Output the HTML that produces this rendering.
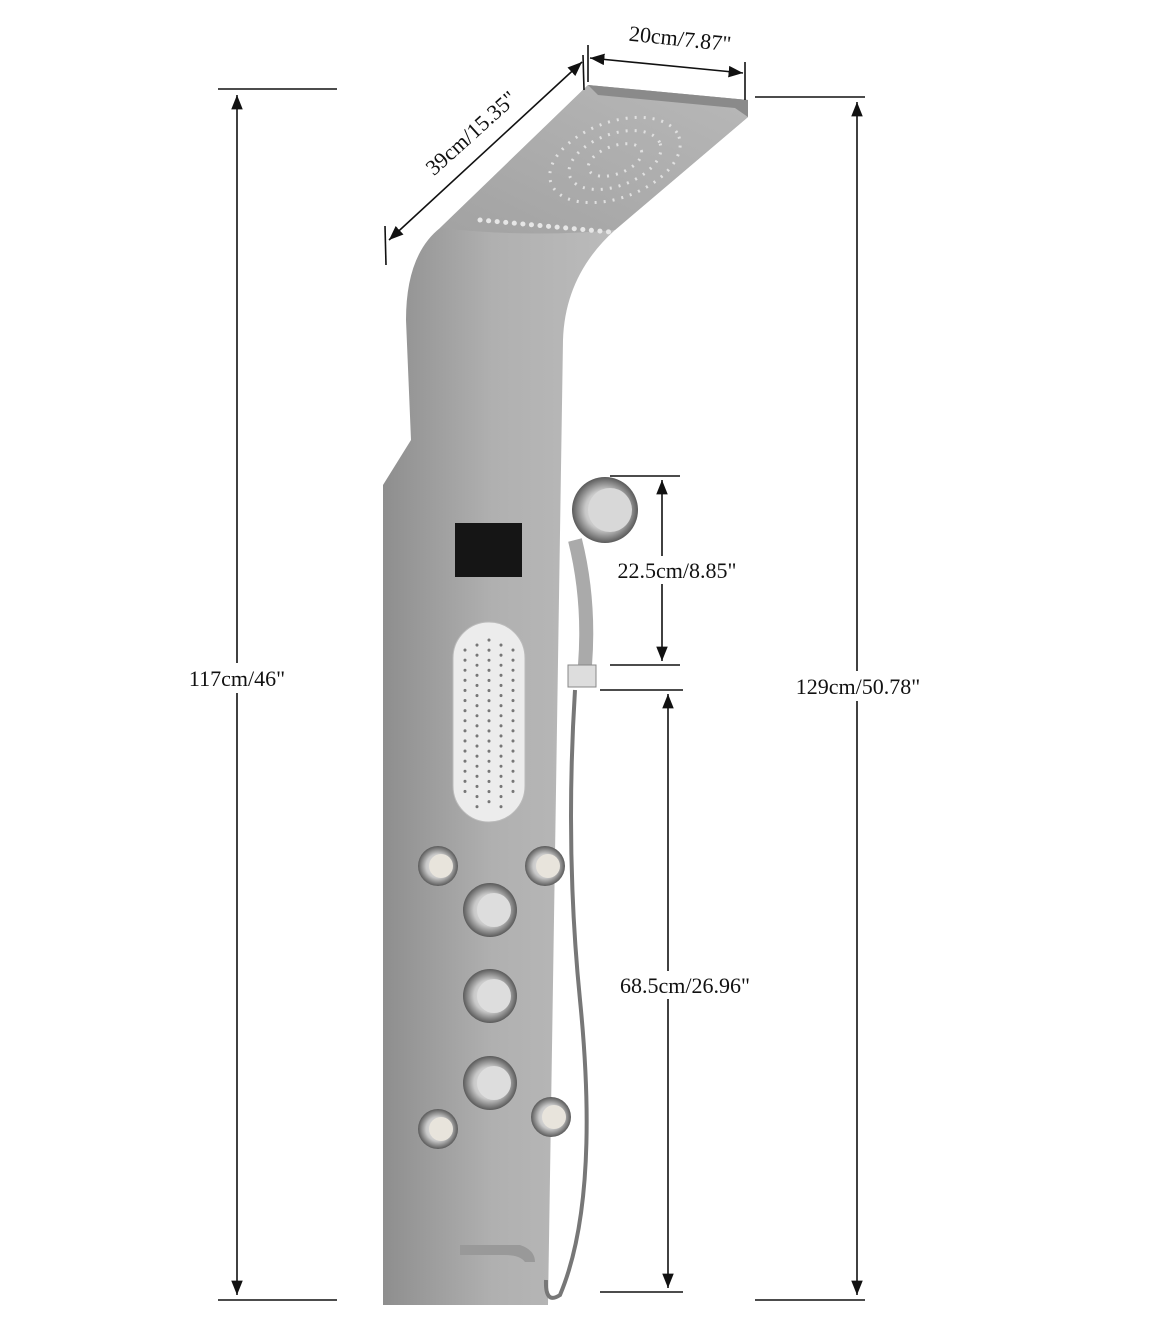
<!DOCTYPE html>
<html><head><meta charset="utf-8"><style>
html,body{margin:0;padding:0;background:#fff;}
svg{display:block;}
text{font-family:"Liberation Serif",serif;font-size:22px;fill:#111;}
</style></head><body>
<svg width="1150" height="1334" viewBox="0 0 1150 1334" xmlns="http://www.w3.org/2000/svg">
<defs>
<linearGradient id="pg" x1="0" x2="1" y1="0" y2="0">
<stop offset="0" stop-color="#8e8e8e"/><stop offset="0.3" stop-color="#b0b0b0"/><stop offset="0.7" stop-color="#bdbdbd"/><stop offset="1" stop-color="#a2a2a2"/>
</linearGradient>
<linearGradient id="hg" x1="0" x2="1" y1="1" y2="0">
<stop offset="0" stop-color="#a2a2a2"/><stop offset="1" stop-color="#b8b8b8"/>
</linearGradient>
<radialGradient id="kn"><stop offset="0" stop-color="#f4f4f4"/><stop offset="0.6" stop-color="#c8c8c8"/><stop offset="1" stop-color="#5a5a5a"/></radialGradient>
<marker id="ar" viewBox="0 0 10 10" refX="10" refY="5" markerWidth="9" markerHeight="9" orient="auto-start-reverse"><path d="M0,1 L10,5 L0,9 z" fill="#111"/></marker>
</defs>

<!-- panel -->
<path d="M383,485 L411,440 L406,320 Q406,255 440,228 L588,85 L748,100 L748,117 L615,230 Q565,275 563,340 L548,1305 L383,1305 Z" fill="url(#pg)"/>
<path d="M440,228 L588,85 L748,100 L748,117 L615,230 Q530,238 440,228 Z" fill="url(#hg)"/>
<path d="M588,85 L748,100 L748,117 L735,108 L598,95 Z" fill="#8a8a8a"/>
<!-- nozzle dots on head -->
<ellipse cx="615" cy="160" rx="68" ry="38" fill="none" stroke="#e0e0e0" stroke-width="3" stroke-dasharray="2 7" transform="rotate(-20 615 160)"/>
<ellipse cx="615" cy="160" rx="48" ry="26" fill="none" stroke="#e0e0e0" stroke-width="3" stroke-dasharray="2 7" transform="rotate(-20 615 160)"/>
<ellipse cx="615" cy="160" rx="28" ry="14" fill="none" stroke="#e0e0e0" stroke-width="3" stroke-dasharray="2 7" transform="rotate(-20 615 160)"/>
<line x1="480" y1="220" x2="610" y2="232" stroke="#e6e6e6" stroke-width="5" stroke-linecap="round" stroke-dasharray="0.1 8.5"/>
<!-- screen -->
<rect x="455" y="523" width="67" height="54" fill="#151515"/>
<!-- oval -->
<rect x="453" y="622" width="72" height="200" rx="36" fill="#ececec" stroke="#bbb"/>
<g stroke="#777" stroke-width="3" stroke-linecap="round" stroke-dasharray="0.1 10">
<line x1="465" y1="650" x2="465" y2="800"/><line x1="477" y1="645" x2="477" y2="810"/><line x1="489" y1="640" x2="489" y2="810"/><line x1="501" y1="645" x2="501" y2="810"/><line x1="513" y1="650" x2="513" y2="800"/>
</g>
<!-- knobs -->
<circle cx="438" cy="866" r="20" fill="url(#kn)"/><circle cx="441" cy="866" r="12" fill="#e8e4dc"/>
<circle cx="545" cy="866" r="20" fill="url(#kn)"/><circle cx="548" cy="866" r="12" fill="#e8e4dc"/>
<circle cx="490" cy="910" r="27" fill="url(#kn)"/><circle cx="494" cy="910" r="17" fill="#ddd"/>
<circle cx="490" cy="996" r="27" fill="url(#kn)"/><circle cx="494" cy="996" r="17" fill="#ddd"/>
<circle cx="490" cy="1083" r="27" fill="url(#kn)"/><circle cx="494" cy="1083" r="17" fill="#ddd"/>
<circle cx="438" cy="1129" r="20" fill="url(#kn)"/><circle cx="441" cy="1129" r="12" fill="#e8e4dc"/>
<circle cx="551" cy="1117" r="20" fill="url(#kn)"/><circle cx="554" cy="1117" r="12" fill="#e8e4dc"/>
<!-- spout -->
<path d="M460,1245 L520,1245 Q535,1250 535,1262 L525,1262 Q520,1255 505,1255 L460,1255 Z" fill="#999"/>
<!-- hand shower -->
<path d="M575,540 Q590,600 585,665" stroke="#aaa" stroke-width="14" fill="none"/>
<circle cx="605" cy="510" r="33" fill="url(#kn)"/><circle cx="610" cy="510" r="22" fill="#d8d8d8"/>
<rect x="568" y="665" width="28" height="22" fill="#ddd" stroke="#888"/>
<path d="M575,690 Q565,850 580,1000 Q600,1200 560,1295 Q545,1305 546,1280" stroke="#777" stroke-width="4" fill="none"/>

<!-- dimension lines -->
<g stroke="#111" stroke-width="1.6" fill="none">
<line x1="218" y1="89" x2="337" y2="89"/><line x1="218" y1="1300" x2="337" y2="1300"/>
<line x1="237" y1="95" x2="237" y2="1295" marker-start="url(#ar)" marker-end="url(#ar)"/>
<line x1="755" y1="97" x2="865" y2="97"/><line x1="755" y1="1300" x2="865" y2="1300"/>
<line x1="857" y1="102" x2="857" y2="1295" marker-start="url(#ar)" marker-end="url(#ar)"/>
<line x1="588" y1="45" x2="588" y2="82"/><line x1="745" y1="62" x2="745" y2="100"/>
<line x1="590" y1="58" x2="743" y2="73" marker-start="url(#ar)" marker-end="url(#ar)"/>
<line x1="385" y1="226" x2="386" y2="265"/><line x1="583" y1="55" x2="584" y2="90"/>
<line x1="389" y1="240" x2="582" y2="62" marker-start="url(#ar)" marker-end="url(#ar)"/>
<line x1="610" y1="476" x2="680" y2="476"/><line x1="610" y1="665" x2="680" y2="665"/>
<line x1="662" y1="480" x2="662" y2="661" marker-start="url(#ar)" marker-end="url(#ar)"/>
<line x1="600" y1="690" x2="683" y2="690"/><line x1="600" y1="1292" x2="683" y2="1292"/>
<line x1="668" y1="694" x2="668" y2="1288" marker-start="url(#ar)" marker-end="url(#ar)"/>
</g>
<rect x="170" y="663" width="134" height="30" fill="#fff"/>
<text x="237" y="686" text-anchor="middle">117cm/46"</text>
<rect x="776" y="671" width="166" height="30" fill="#fff"/>
<text x="858" y="694" text-anchor="middle">129cm/50.78"</text>
<rect x="600" y="556" width="154" height="28" fill="#fff"/>
<text x="677" y="578" text-anchor="middle">22.5cm/8.85"</text>
<rect x="602" y="971" width="166" height="28" fill="#fff"/>
<text x="685" y="993" text-anchor="middle">68.5cm/26.96"</text>
<text x="680" y="46" text-anchor="middle" transform="rotate(6 680 40)">20cm/7.87"</text>
<text x="472" y="140" text-anchor="middle" transform="rotate(-42 472 134)">39cm/15.35"</text>
</svg>
</body></html>
